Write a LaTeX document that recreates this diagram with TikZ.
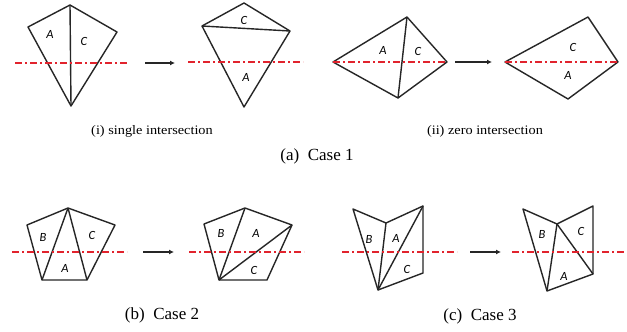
\documentclass[tikz,border=0pt]{standalone}
\usepackage{fontspec}
\setmainfont{Liberation Serif}
\newfontfamily\lblfont{Carlito}
\usetikzlibrary{arrows.meta}
\definecolor{cutred}{RGB}{225,35,45}
\begin{document}
\begin{tikzpicture}[x=1pt,y=-1pt,
  poly/.style={draw=black!85,line width=1.4pt,line join=round},
  diag/.style={draw=black!85,line width=1.4pt},
  cut/.style={draw=cutred,line width=2pt,dash pattern=on 7pt off 3pt on 2pt off 3pt},
  arr/.style={draw=black!85,line width=1.8pt,-{Latex[length=5pt,width=5pt]}},
  lbl/.style={font=\lblfont\itshape\fontsize{12.5}{12.5}\selectfont,inner sep=0pt},
  subcap/.style={font=\fontsize{13}{13}\selectfont,inner sep=0pt,xscale=1.1},
  maincap/.style={font=\fontsize{17}{17}\selectfont,inner sep=0pt}]
\useasboundingbox (0,0) rectangle (627,332);
\fill[white] (0,0) rectangle (627,332);
% ---------- (i) single intersection ----------
\coordinate (k1t) at (70,5); \coordinate (k1l) at (28,27);
\coordinate (k1r) at (117,32); \coordinate (k1b) at (71,106);
\draw[poly] (k1t) -- (k1r) -- (k1b) -- (k1l) -- cycle;
\draw[diag] (k1t) -- (k1b);
\coordinate (c1a) at (15,63); \coordinate (c1b) at (128,63);
\draw[cut] (c1a) -- (c1b);
\node[lbl] (k1A) at (50,34) {A};
\node[lbl] (k1C) at (84,41) {C};
\coordinate (a1s) at (145,63); \coordinate (a1e) at (175,63);
\draw[arr] (a1s) -- (a1e);
\coordinate (k2t) at (244,3); \coordinate (k2l) at (202,26);
\coordinate (k2r) at (290,31); \coordinate (k2b) at (244,107);
\draw[poly] (k2t) -- (k2r) -- (k2b) -- (k2l) -- cycle;
\draw[diag] (k2l) -- (k2r);
\coordinate (c2a) at (188,62); \coordinate (c2b) at (303,62);
\draw[cut] (c2a) -- (c2b);
\node[lbl] (k2C) at (244,20) {C};
\node[lbl] (k2A) at (246,77) {A};
\node[subcap] (capi) at (152,131) {(i) single intersection};
% ---------- (ii) zero intersection ----------
\coordinate (k3l) at (333,62); \coordinate (k3t) at (407,17);
\coordinate (k3r) at (447,62); \coordinate (k3b) at (398,98);
\draw[poly] (k3l) -- (k3t) -- (k3r) -- (k3b) -- cycle;
\draw[diag] (k3t) -- (k3b);
\draw[cut] (k3l) -- (k3r);
\node[lbl] (k3A) at (383,50) {A};
\node[lbl] (k3C) at (418,51) {C};
\coordinate (a2s) at (455,62); \coordinate (a2e) at (492,62);
\draw[arr] (a2s) -- (a2e);
\coordinate (k4l) at (505,62); \coordinate (k4t) at (588,17);
\coordinate (k4r) at (618,62); \coordinate (k4b) at (568,99);
\draw[poly] (k4l) -- (k4t) -- (k4r) -- (k4b) -- cycle;
\draw[cut] (k4l) -- (k4r);
\node[lbl] (k4C) at (573,47) {C};
\node[lbl] (k4A) at (568,75) {A};
\node[subcap] (capii) at (485,131) {(ii) zero intersection};
\node[maincap] (capa) at (317,156) {(a)\ \ Case 1};
% ---------- (b) Case 2 ----------
\coordinate (p1t) at (68,208); \coordinate (p1l) at (27,225);
\coordinate (p1bl) at (42,280); \coordinate (p1br) at (87,280);
\coordinate (p1r) at (115,225);
\draw[poly] (p1t) -- (p1r) -- (p1br) -- (p1bl) -- (p1l) -- cycle;
\draw[diag] (p1t) -- (p1bl);
\draw[diag] (p1t) -- (p1br);
\coordinate (c5a) at (12,252); \coordinate (c5b) at (127,252);
\draw[cut] (c5a) -- (c5b);
\node[lbl] (p1B) at (43,237) {B};
\node[lbl] (p1C) at (92,235) {C};
\node[lbl] (p1A) at (65,268) {A};
\coordinate (a3s) at (143,252); \coordinate (a3e) at (174,252);
\draw[arr] (a3s) -- (a3e);
\coordinate (p2t) at (245,208); \coordinate (p2l) at (204,224);
\coordinate (p2bl) at (219,280); \coordinate (p2br) at (267,280);
\coordinate (p2r) at (292,225);
\draw[poly] (p2t) -- (p2r) -- (p2br) -- (p2bl) -- (p2l) -- cycle;
\draw[diag] (p2t) -- (p2bl);
\draw[diag] (p2bl) -- (p2r);
\coordinate (c6a) at (189,252); \coordinate (c6b) at (304,252);
\draw[cut] (c6a) -- (c6b);
\node[lbl] (p2B) at (221,233) {B};
\node[lbl] (p2A) at (256,233) {A};
\node[lbl] (p2C) at (254,270) {C};
\node[maincap] (capb) at (162,315) {(b)\ \ Case 2};
% ---------- (c) Case 3 ----------
\coordinate (q1a) at (353,209); \coordinate (q1n) at (386,223);
\coordinate (q1b) at (423,206); \coordinate (q1c) at (423,273);
\coordinate (q1d) at (378,290);
\draw[poly] (q1a) -- (q1n) -- (q1b) -- (q1c) -- (q1d) -- cycle;
\draw[diag] (q1d) -- (q1n);
\draw[diag] (q1d) -- (q1b);
\coordinate (c7a) at (342,252); \coordinate (c7b) at (457,252);
\draw[cut] (c7a) -- (c7b);
\node[lbl] (q1B) at (369,239) {B};
\node[lbl] (q1A) at (396,238) {A};
\node[lbl] (q1C) at (407,269) {C};
\coordinate (a4s) at (470,252); \coordinate (a4e) at (501,252);
\draw[arr] (a4s) -- (a4e);
\coordinate (q2a) at (523,209); \coordinate (q2n) at (557,224);
\coordinate (q2b) at (593,206); \coordinate (q2c) at (593,274);
\coordinate (q2d) at (547,291);
\draw[poly] (q2a) -- (q2n) -- (q2b) -- (q2c) -- (q2d) -- cycle;
\draw[diag] (q2d) -- (q2n);
\draw[diag] (q2n) -- (q2c);
\coordinate (c8a) at (512,252); \coordinate (c8b) at (627,252);
\draw[cut] (c8a) -- (c8b);
\node[lbl] (q2B) at (542,234) {B};
\node[lbl] (q2C) at (581,231) {C};
\node[lbl] (q2A) at (564,276) {A};
\node[maincap] (capc) at (480,316) {(c)\ \ Case 3};
\end{tikzpicture}
\end{document}
